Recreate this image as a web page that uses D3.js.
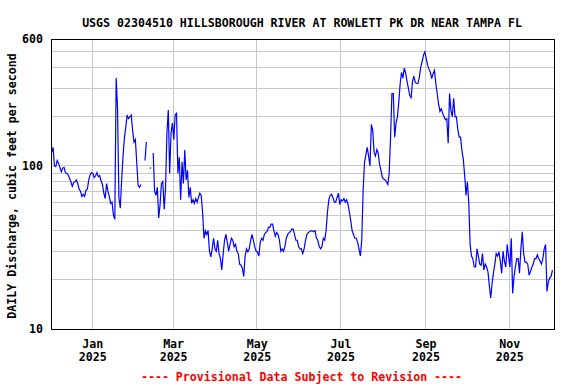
<!DOCTYPE html>
<html><head><meta charset="utf-8">
<script src="https://cdn.jsdelivr.net/npm/d3@7"></script>
<style>
body{margin:0;background:#fff}
svg text{font-family:"DejaVu Sans Mono",monospace;font-weight:bold;font-size:11.6px;fill:#000}
</style>
</head><body>
<svg id="chart" width="576" height="384"></svg>
<script>
const title = "USGS 02304510 HILLSBOROUGH RIVER AT ROWLETT PK DR NEAR TAMPA FL";
const yLabel = "DAILY Discharge, cubic feet per second";
const footer = "---- Provisional Data Subject to Revision ----";
const startDate = "2024-12-02";
const endDate = "2025-12-04";
// daily mean discharge (cfs), one value per day from startDate; null = missing
const discharge = [
121,130,100,99,108,104,98,92,97,98,
91,90,88,84,80,75,79,80,82,78,
72,70,65,67,65,71,72,82,88,91,
90,85,87,91,86,87,81,77,68,63,
78,70,65,59,60,50,47,346,225,64,
55,82,115,148,173,205,195,200,205,165,
140,145,105,76,74,77,null,null,108,140,
null,null,97,null,120,70,66,74,48,58,
78,80,54,74,159,220,90,159,183,145,
205,210,90,113,62,106,78,125,82,94,
64,74,59,62,59,63,60,64,68,66,
52,36,40,38,40,30,27.7,31,36,31,
30,35,29,27,23,29,35,38,34,30,
33,36,35,32,33,30,29,25,24.6,23.6,
21,28,31,29.7,31,35,38,35,32,30,
29.7,28,34,36,35,38,39,39.5,42,42,
44,44,40,37,39,38,35,30,31,30,
32,36,38,39,39.5,41,41,38,35,35,
32,31,31,29,31,35,38,39,39.5,40,
40,39.5,40,36,35,32,31,32,36,35,
40,52,62,66,67,64,60,60,64,68,
58,62,61,63,60,62,58,52,46,40,
38,36,36,34,31,28,35,70,105,117,
130,115,100,180,165,121,115,126,120,102,
94,85,83,82,80,77,90,150,278,278,
150,183,200,246,320,375,345,398,370,330,
300,270,262,330,355,325,320,320,350,405,
435,478,500,455,415,392,375,343,368,385,
320,278,240,216,224,210,200,192,195,138,
278,220,200,260,200,200,168,150,150,125,
110,88,66,80,60,33,28,27,24,24,
31,28,25,24.6,29,23,25,24,22.4,18.5,
15.5,19,22,25,29,28,29.7,26,22,30,
26,24,33,28,24,36,16.5,21,24,27,
27,22,31,39.5,29,25.7,25.7,25,21.4,22.5,
24,25,27,27,28.5,27,26,25,27,31,
33,17,19.5,20.5,21,23
];
const yTickValues = [10, 100, 600];
const yGridValues = [20, 30, 40, 50, 60, 70, 80, 90, 100, 200, 300, 400, 500];
const xTickDates = ["2025-01-01", "2025-03-01", "2025-05-01", "2025-07-01", "2025-09-01", "2025-11-01"];
const xTickMonths = ["Jan", "Mar", "May", "Jul", "Sep", "Nov"];
const xTickYears = ["2025", "2025", "2025", "2025", "2025", "2025"];

const parse = d3.utcParse("%Y-%m-%d");
const t0 = parse(startDate);
const data = discharge.map((v, i) => ({
  date: d3.utcHour.offset(d3.utcDay.offset(t0, i), 12),
  value: v
}));

const L = 51, R = 554.5, T = 39, B = 329;
const x = d3.scaleUtc().domain([parse(startDate), parse(endDate)]).range([L, R]);
const y = d3.scaleLog().domain([10, 600]).range([B, T]);

const svg = d3.select("#chart");
svg.append("rect").attr("width", 576).attr("height", 384).attr("fill", "#fff");

// grid
const grid = svg.append("g").attr("stroke", "#c8c8c8").attr("stroke-width", 1).attr("shape-rendering", "crispEdges");
grid.selectAll("line.h").data(yGridValues).join("line").attr("class", "h")
  .attr("x1", L).attr("x2", R).attr("y1", d => y(d)).attr("y2", d => y(d));
grid.selectAll("line.v").data(xTickDates.map(parse)).join("line").attr("class", "v")
  .attr("x1", d => x(d)).attr("x2", d => x(d)).attr("y1", T).attr("y2", B);

// data line
const line = d3.line().defined(d => d.value != null).x(d => x(d.date)).y(d => y(d.value));
svg.append("path").datum(data).attr("d", line).attr("fill", "none")
  .attr("stroke", "#0000ff").attr("stroke-width", 1.2);
// isolated points
const iso = data.filter((d, i) => d.value != null &&
  (i === 0 || data[i - 1].value == null) && (i === data.length - 1 || data[i + 1].value == null));
svg.selectAll("rect.iso").data(iso).join("rect").attr("class", "iso")
  .attr("x", d => x(d.date) - 0.7).attr("y", d => y(d.value) - 0.6)
  .attr("width", 1.4).attr("height", 1.2).attr("fill", "#0000ff");

// frame
svg.append("rect").attr("x", L).attr("y", T).attr("width", R - L).attr("height", B - T)
  .attr("fill", "none").attr("stroke", "#000").attr("stroke-width", 1).attr("shape-rendering", "crispEdges");

// y axis labels
const yAxis = d3.axisLeft(y).tickValues(yTickValues).tickSize(0).tickPadding(8).tickFormat(d3.format("d"));
const gy = svg.append("g").attr("transform", `translate(${L},0)`).call(yAxis);
gy.select(".domain").remove();
gy.selectAll("text").attr("font-family", null).attr("font-size", null).attr("fill", "#000");

// x axis labels
const xAxis = d3.axisBottom(x).tickValues(xTickDates.map(parse)).tickSize(0).tickFormat("");
const gx = svg.append("g").attr("transform", `translate(0,${B})`).call(xAxis);
gx.select(".domain").remove();
gx.selectAll(".tick text").each(function (d, i) {
  const t = d3.select(this).attr("y", null).attr("dy", null).attr("font-family", null).attr("font-size", null).attr("fill", "#000");
  t.append("tspan").attr("x", 0).attr("y", 19).text(xTickMonths[i]);
  t.append("tspan").attr("x", 0).attr("y", 32).text(xTickYears[i]);
});

// title, axis title, footer
svg.append("text").attr("x", 302).attr("y", 26.5).attr("text-anchor", "middle").text(title);
svg.append("text").attr("transform", "translate(15.5,186) rotate(-90)").attr("text-anchor", "middle").text(yLabel);
svg.append("text").attr("x", 301.5).attr("y", 380.5).attr("text-anchor", "middle").style("fill", "#ff0000").text(footer);
</script>
</body></html>
